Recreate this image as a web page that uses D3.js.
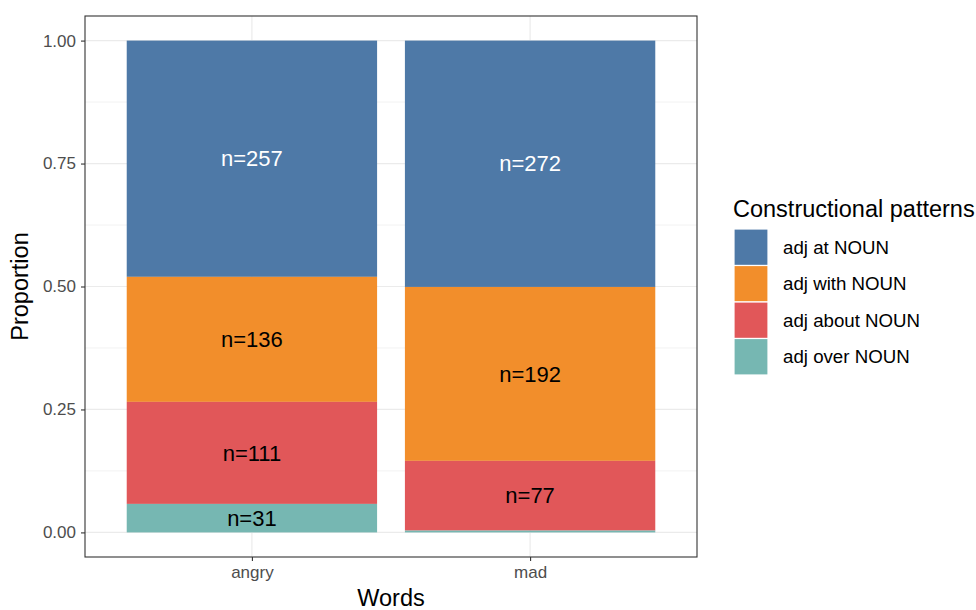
<!DOCTYPE html>
<html>
<head>
<meta charset="utf-8">
<script src="https://cdn.jsdelivr.net/npm/d3@7"></script>
<style>
  body { margin: 0; background: #fff; }
  text { font-family: "Liberation Sans", Arial, sans-serif; }
</style>
</head>
<body>
<svg id="chart" width="976" height="610"></svg>
<script>
// Data
const words = ["angry", "mad"];
const patterns = ["adj at NOUN", "adj with NOUN", "adj about NOUN", "adj over NOUN"];
const angryCounts = [257, 136, 111, 31];
const madCounts = [272, 192, 77, 2];
const patternColors = ["#4E79A7", "#F28E2B", "#E15759", "#76B7B2"];
const yTicks = [0, 0.25, 0.5, 0.75, 1];

const countsByWord = { angry: angryCounts, mad: madCounts };

const svg = d3.select("#chart");
const panel = { left: 85, top: 16, right: 697, bottom: 557 };

// discrete x scale with ggplot-style expansion (0.6 units each side)
const xPos = d3.scaleLinear().domain([0.4, words.length + 0.6]).range([panel.left, panel.right]);
const y = d3.scaleLinear().domain([-0.05, 1.05]).range([panel.bottom, panel.top]);
const color = d3.scaleOrdinal().domain(patterns).range(patternColors);

// panel background + grid
const g = svg.append("g");
g.append("rect")
  .attr("x", panel.left).attr("y", panel.top)
  .attr("width", panel.right - panel.left).attr("height", panel.bottom - panel.top)
  .attr("fill", "#fff");

const minor = [0.125, 0.375, 0.625, 0.875];
g.selectAll(".minor").data(minor).join("line")
  .attr("x1", panel.left).attr("x2", panel.right)
  .attr("y1", d => y(d)).attr("y2", d => y(d))
  .attr("stroke", "#f2f2f2").attr("stroke-width", 1);
g.selectAll(".majorY").data(yTicks).join("line")
  .attr("x1", panel.left).attr("x2", panel.right)
  .attr("y1", d => y(d)).attr("y2", d => y(d))
  .attr("stroke", "#ebebeb").attr("stroke-width", 1.2);
g.selectAll(".majorX").data(words).join("line")
  .attr("x1", (d, i) => xPos(i + 1)).attr("x2", (d, i) => xPos(i + 1))
  .attr("y1", panel.top).attr("y2", panel.bottom)
  .attr("stroke", "#ebebeb").attr("stroke-width", 1.2);

// stacked proportions
const segs = [];
words.forEach((w, wi) => {
  const counts = countsByWord[w];
  const total = d3.sum(counts);
  let acc = 1;
  counts.forEach((c, pi) => {
    const p = c / total;
    segs.push({ word: w, wi, pattern: patterns[pi], pi, n: c, y0: acc - p, y1: acc });
    acc -= p;
  });
});

const barW = xPos(1.45) - xPos(1);
g.selectAll(".seg").data(segs).join("rect")
  .attr("x", d => xPos(d.wi + 1) - barW)
  .attr("width", barW * 2)
  .attr("y", d => y(d.y1))
  .attr("height", d => y(d.y0) - y(d.y1))
  .attr("fill", d => color(d.pattern));

g.selectAll(".lab").data(segs.filter(d => d.y1 - d.y0 > 0.02)).join("text")
  .attr("x", d => xPos(d.wi + 1))
  .attr("y", d => y((d.y0 + d.y1) / 2))
  .attr("dy", "0.35em")
  .attr("text-anchor", "middle")
  .attr("font-size", 22)
  .attr("fill", d => d.pi === 0 ? "#fff" : "#000")
  .text(d => "n=" + d.n);

// panel border
g.append("rect")
  .attr("x", panel.left).attr("y", panel.top)
  .attr("width", panel.right - panel.left).attr("height", panel.bottom - panel.top)
  .attr("fill", "none").attr("stroke", "#333").attr("stroke-width", 1.1);

// axes
const yAxis = svg.append("g").attr("transform", `translate(${panel.left},0)`)
  .call(d3.axisLeft(y).tickValues(yTicks).tickFormat(d3.format(".2f")).tickSize(4).tickPadding(5));
const xAxis = svg.append("g").attr("transform", `translate(0,${panel.bottom})`)
  .call(d3.axisBottom(d3.scalePoint().domain(words).range([xPos(1), xPos(2)])).tickSize(4).tickPadding(5));
[yAxis, xAxis].forEach(ax => {
  ax.select(".domain").remove();
  ax.selectAll(".tick line").attr("stroke", "#333").attr("stroke-width", 1.1);
  ax.selectAll(".tick text").attr("fill", "#4d4d4d").attr("font-size", 17)
    .attr("font-family", "Liberation Sans, Arial, sans-serif");
});

// axis titles
svg.append("text")
  .attr("x", (panel.left + panel.right) / 2).attr("y", 606)
  .attr("text-anchor", "middle").attr("font-size", 23.5).attr("fill", "#000")
  .text("Words");
svg.append("text")
  .attr("transform", `translate(28,${(panel.top + panel.bottom) / 2}) rotate(-90)`)
  .attr("text-anchor", "middle").attr("font-size", 23.5).attr("fill", "#000")
  .text("Proportion");

// legend
const leg = svg.append("g").attr("transform", "translate(733,0)");
leg.append("text").attr("x", 0).attr("y", 217).attr("font-size", 23.5).attr("fill", "#000")
  .text("Constructional patterns");
const keyH = 36.5;
const items = leg.selectAll(".item").data(patterns).join("g")
  .attr("transform", (d, i) => `translate(1,${229 + i * keyH})`);
items.append("rect")
  .attr("width", 34).attr("height", keyH)
  .attr("fill", d => color(d)).attr("stroke", "#fff").attr("stroke-width", 1.2);
items.append("text")
  .attr("x", 49).attr("y", keyH / 2).attr("dy", "0.35em")
  .attr("font-size", 18.7).attr("fill", "#000")
  .text(d => d);
</script>
</body>
</html>
